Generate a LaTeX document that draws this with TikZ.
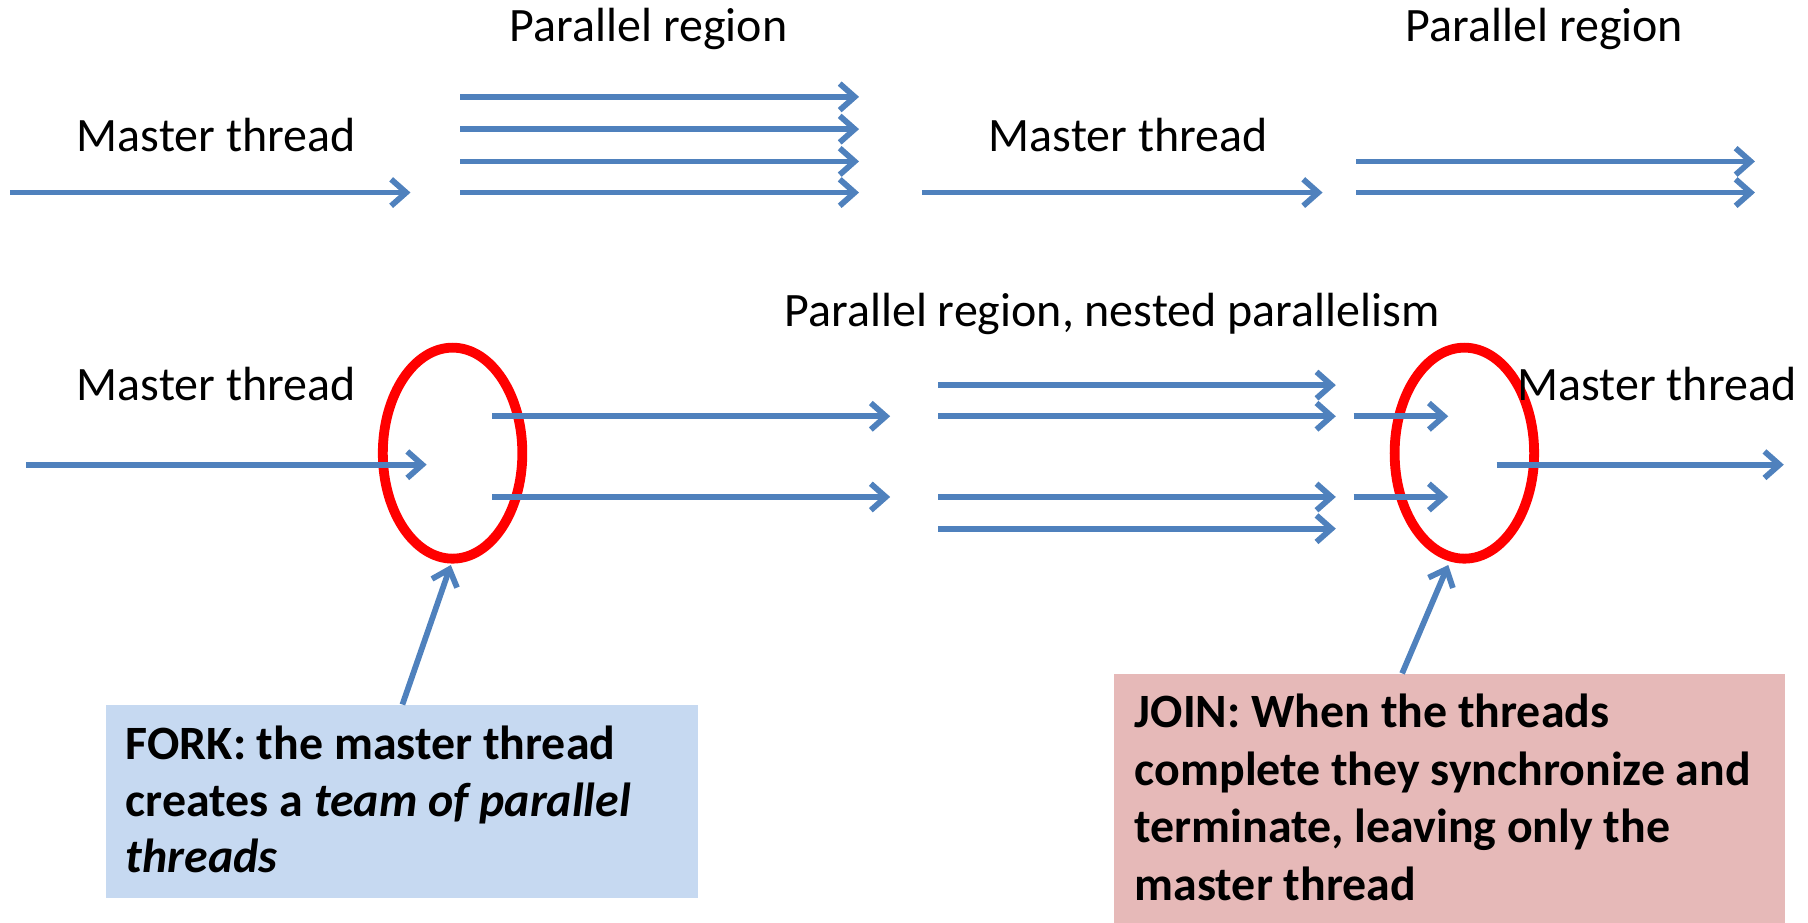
\documentclass[tikz,border=0pt]{standalone}
\usepackage{fontspec}
\setmainfont{Carlito}
\usetikzlibrary{arrows.meta,shapes.geometric}
\definecolor{arrblue}{HTML}{4F81BD}
\definecolor{forkfill}{HTML}{C6D9F1}
\definecolor{joinfill}{HTML}{E6B9B8}
\begin{document}
\begin{tikzpicture}[x=1pt,y=-1pt,
  thr/.style={draw=arrblue, line width=5pt, -{Straight Barb[length=13pt,width=23pt,line width=5pt]}},
  lbl/.style={font=\fontsize{41.6}{48}\selectfont, anchor=base, inner sep=0pt},
  ring/.style={draw=red, line width=8.5pt, ellipse, minimum width=121pt, minimum height=183pt, inner sep=0pt},
  boxtext/.style={font=\fontsize{41.5}{49.2}\selectfont\bfseries, anchor=base west, align=left, inner sep=0pt}]
\useasboundingbox (0,0) rectangle (1568,800);

% ---- top row labels
\node[lbl] (mt1) at (187.5,131.5) {Master thread};
\node[lbl] (pr1) at (562.5,36) {Parallel region};
\node[lbl] (mt2) at (978.5,131.5) {Master thread};
\node[lbl] (pr2) at (1339.5,36) {Parallel region};

% ---- top row arrows
\coordinate (a1s) at (9,167);   \coordinate (a1e) at (356,167);
\draw[thr] (a1s) -- (a1e);
\foreach \y [count=\i] in {84,112,140,167}{
  \coordinate (p\i s) at (399,\y); \coordinate (p\i e) at (745,\y);
  \draw[thr] (p\i s) -- (p\i e);
}
\coordinate (a2s) at (800,167); \coordinate (a2e) at (1147,167);
\draw[thr] (a2s) -- (a2e);
\foreach \y [count=\i] in {140,167}{
  \coordinate (q\i s) at (1176,\y); \coordinate (q\i e) at (1522,\y);
  \draw[thr] (q\i s) -- (q\i e);
}

% ---- bottom row labels
\node[lbl] (nest) at (964.5,283) {Parallel region, nested parallelism};
\node[lbl] (mt3) at (187.5,347) {Master thread};

% ---- rings
\node[ring] (fork) at (392.5,393) {};
\node[ring] (join) at (1270,393) {};

\node[lbl] (mt4) at (1437,347) {Master thread};

% ---- bottom arrows
\coordinate (b0s) at (22.5,403); \coordinate (b0e) at (370,403);
\draw[thr] (b0s) -- (b0e);
\foreach \y [count=\i] in {361,431}{
  \coordinate (f\i s) at (427,\y); \coordinate (f\i e) at (772,\y);
  \draw[thr] (f\i s) -- (f\i e);
}
\foreach \y [count=\i] in {334,361,431,458.5}{
  \coordinate (n\i s) at (813.5,\y); \coordinate (n\i e) at (1158.5,\y);
  \draw[thr] (n\i s) -- (n\i e);
}
\foreach \y [count=\i] in {361,431}{
  \coordinate (s\i s) at (1174,\y); \coordinate (s\i e) at (1256,\y);
  \draw[thr] (s\i s) -- (s\i e);
}
\coordinate (oS) at (1298,403); \coordinate (oE) at (1547,403);
\draw[thr] (oS) -- (oE);

% ---- callout boxes (text node anchored at last line's baseline)
\node[fill=forkfill, anchor=north west, minimum width=513pt, minimum height=168pt, inner sep=0pt] (forkbox) at (92,611) {};
\node[boxtext] (forktxt) at (109,757) {FORK: the master thread\\creates a \textit{team of parallel}\\\textit{threads}};

\node[fill=joinfill, anchor=north west, minimum width=582pt, minimum height=217pt, inner sep=0pt] (joinbox) at (966,584) {};
\node[boxtext, font=\fontsize{41.5}{50}\selectfont\bfseries] (jointxt) at (984,781) {JOIN: When the threads\\complete they synchronize and\\terminate, leaving only the\\master thread};

% ---- pointers
\coordinate (fp) at (349,611); \coordinate (fq) at (391,490);
\draw[thr] (fp) -- (fq);
\coordinate (jp) at (1216,584); \coordinate (jq) at (1256,490);
\draw[thr] (jp) -- (jq);
\end{tikzpicture}
\end{document}
